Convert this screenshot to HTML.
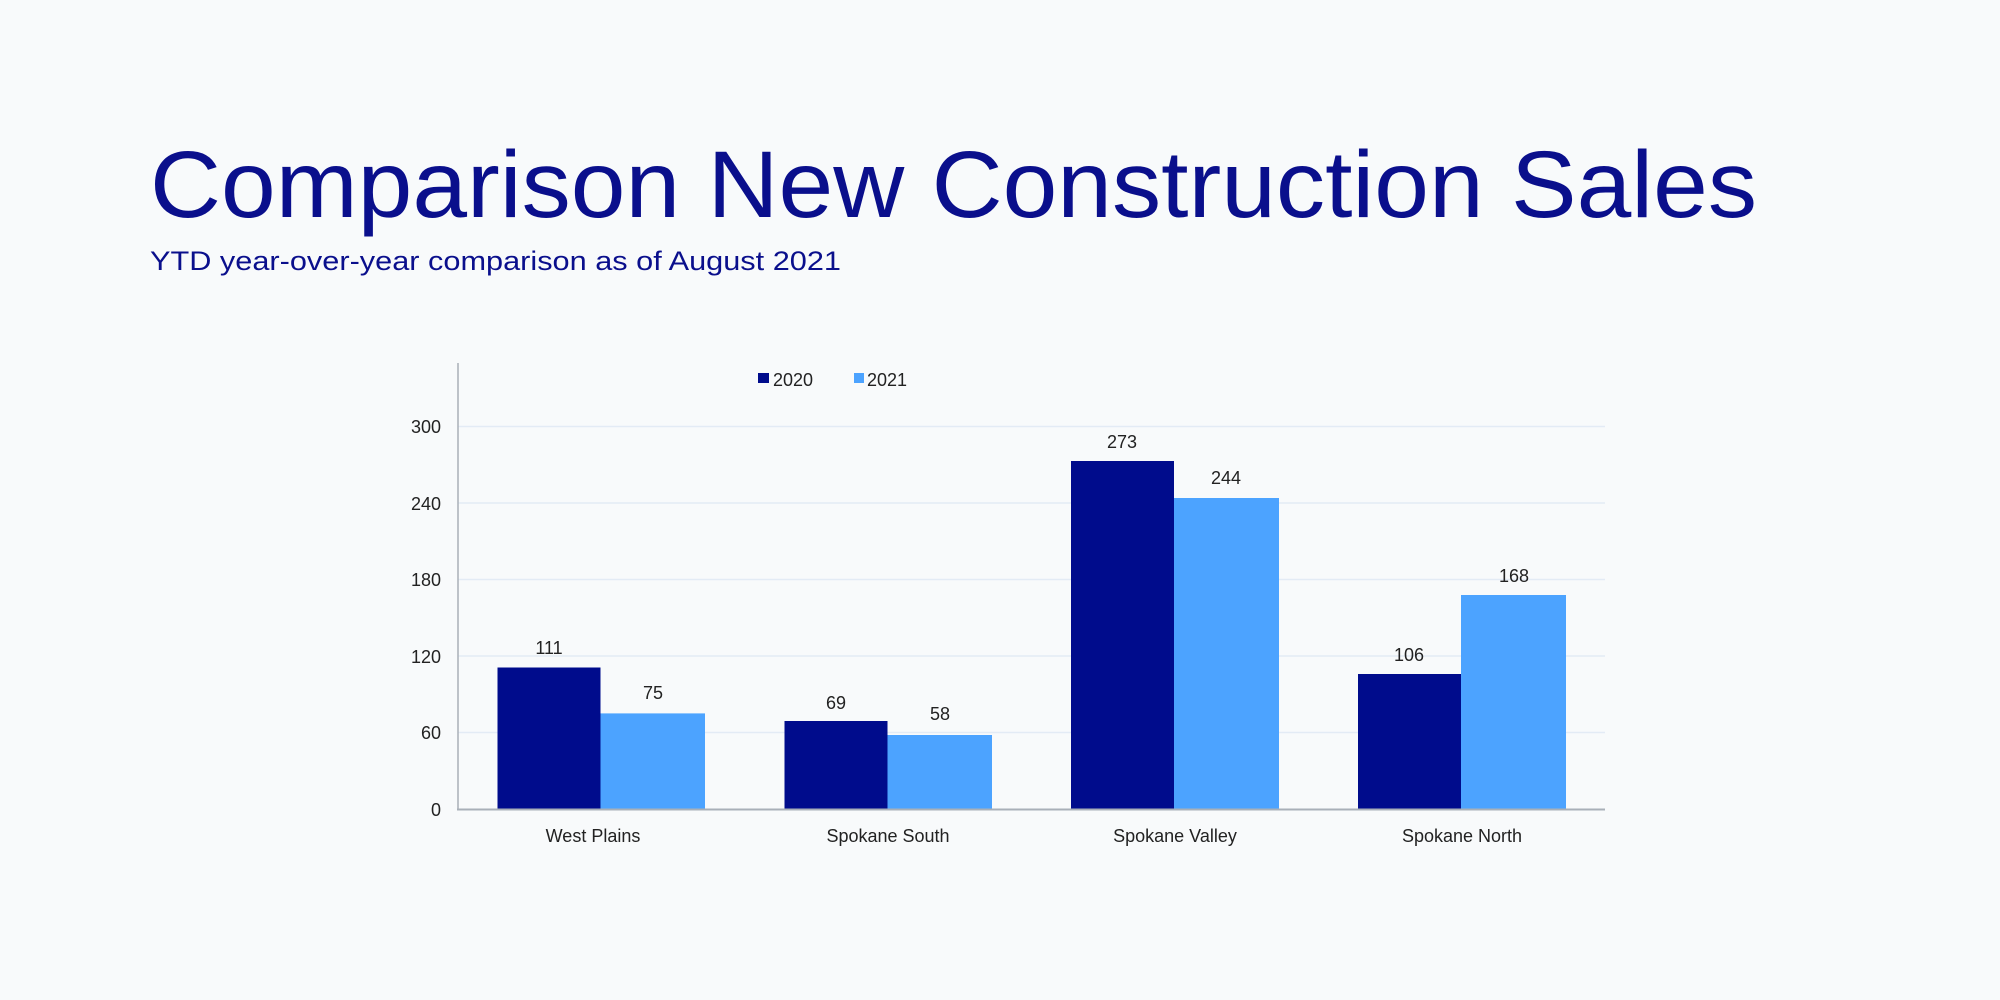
<!DOCTYPE html>
<html><head><meta charset="utf-8"><style>
html,body{margin:0;padding:0;background:#f8fafb;}
svg{display:block;font-family:"Liberation Sans",Arial,sans-serif;}
</style></head><body>
<svg width="2000" height="1000" viewBox="0 0 2000 1000" xmlns="http://www.w3.org/2000/svg">
<rect width="2000" height="1000" fill="#f8fafb"/>
<text x="150" y="217" font-size="95" fill="#0a0f8c" textLength="1607" lengthAdjust="spacingAndGlyphs">Comparison New Construction Sales</text>
<text x="150" y="270" font-size="27" fill="#0a0f8c" textLength="691" lengthAdjust="spacingAndGlyphs">YTD year-over-year comparison as of August 2021</text>
<g stroke="#e3ebf5" stroke-width="1.5">
<line x1="458" y1="732.5" x2="1605" y2="732.5"/>
<line x1="458" y1="656" x2="1605" y2="656"/>
<line x1="458" y1="579.5" x2="1605" y2="579.5"/>
<line x1="458" y1="503" x2="1605" y2="503"/>
<line x1="458" y1="426.5" x2="1605" y2="426.5"/>
</g>
<g font-size="18" fill="#222" text-anchor="end">
<text x="441" y="816">0</text>
<text x="441" y="739">60</text>
<text x="441" y="663">120</text>
<text x="441" y="586">180</text>
<text x="441" y="510">240</text>
<text x="441" y="433">300</text>
</g>
<g fill="#000c8c">
<rect x="497.5" y="667.5" width="103" height="141.5"/>
<rect x="784.5" y="721" width="103" height="88"/>
<rect x="1071" y="461" width="103" height="348"/>
<rect x="1358" y="674" width="103" height="135"/>
</g>
<g fill="#4ca3ff">
<rect x="600.5" y="713.4" width="104.5" height="95.6"/>
<rect x="887.5" y="735" width="104.5" height="74"/>
<rect x="1174" y="498" width="105" height="311"/>
<rect x="1461" y="595" width="105" height="214"/>
</g>
<line x1="458" y1="363" x2="458" y2="810" stroke="#a9b0b8" stroke-width="1.5"/>
<line x1="457" y1="809.5" x2="1605" y2="809.5" stroke="#a9b0b8" stroke-width="2"/>
<g font-size="18" fill="#222" text-anchor="middle">
<text x="549" y="654">111</text>
<text x="653" y="699">75</text>
<text x="836" y="709">69</text>
<text x="940" y="720">58</text>
<text x="1122" y="448">273</text>
<text x="1226" y="484">244</text>
<text x="1409" y="661">106</text>
<text x="1514" y="582">168</text>
<text x="593" y="842">West Plains</text>
<text x="888" y="842">Spokane South</text>
<text x="1175" y="842">Spokane Valley</text>
<text x="1462" y="842">Spokane North</text>
</g>
<rect x="758" y="373" width="11" height="10" fill="#000c8c"/>
<text x="773" y="386" font-size="18" fill="#222">2020</text>
<rect x="854" y="373" width="10" height="10" fill="#4ca3ff"/>
<text x="867" y="386" font-size="18" fill="#222">2021</text>
</svg>
</body></html>
